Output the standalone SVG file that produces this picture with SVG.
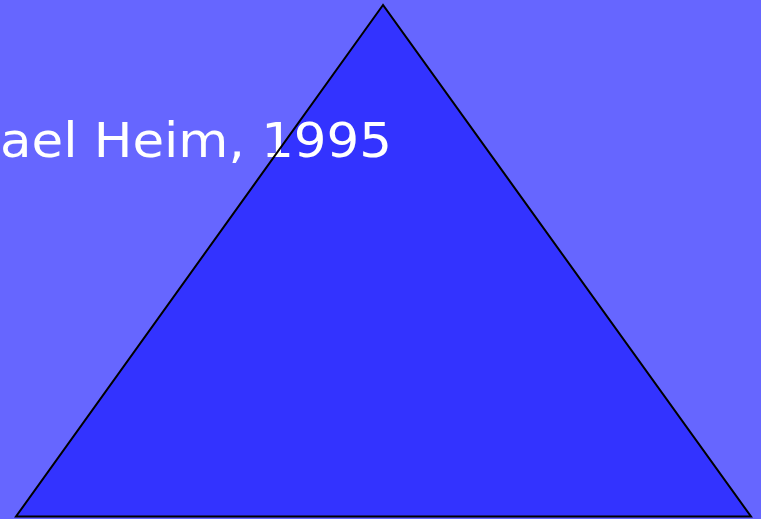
<svg xmlns="http://www.w3.org/2000/svg" width="761" height="519" viewBox="0 0 761 519">
<style>
.bg{fill:#6666FF}
.tri-fill{fill:#3333FF;stroke:none}
.tri-line{fill:none;stroke:#000;stroke-width:2}
.caption{font-family:"DejaVu Sans","Liberation Sans",Arial,sans-serif;font-size:48px;fill:#FFFFFF}
</style>
<rect class="bg" x="0" y="0" width="761" height="519"/>
<g id="triangle">
<polygon class="tri-fill" points="383,5 16,516.5 751,516.5"/>
</g>
<g id="caption">
<text class="caption" x="0" y="157" textLength="392" lengthAdjust="spacingAndGlyphs">ael Heim, 1995</text>
</g>
<g id="connectors">
<polygon class="tri-line" points="383,5 16,516.5 751,516.5"/>
</g>
</svg>
